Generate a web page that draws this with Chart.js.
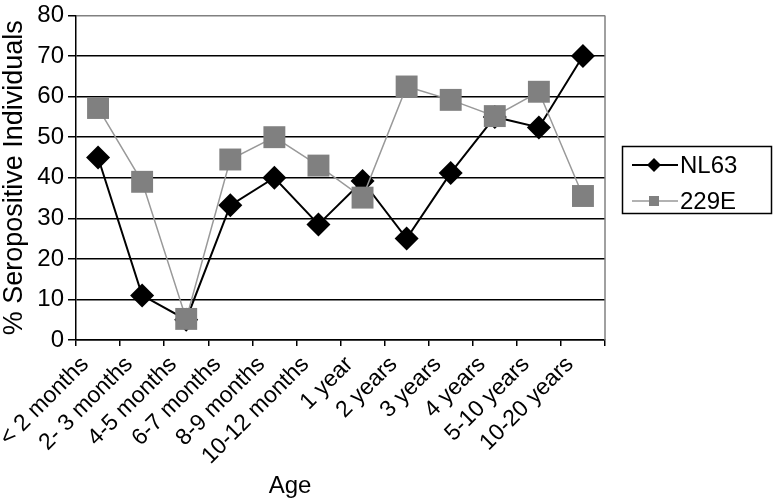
<!DOCTYPE html>
<html>
<head>
<meta charset="utf-8">
<script src="https://cdn.jsdelivr.net/npm/chart.js@4"></script>
<style>
  body { margin: 0; background: #fff; }
  canvas { display: block; }
</style>
</head>
<body>
<canvas id="chart" width="773" height="501"></canvas>
<script>
const ages = ['< 2 months', '2- 3 months', '4-5 months', '6-7 months', '8-9 months', '10-12 months',
              '1 year', '2 years', '3 years', '4 years', '5-10 years', '10-20 years'];
const nl63 = [45, 11, 5, 33.2, 40, 28.5, 39.2, 25, 41.2, 55, 52.4, 70];
const hcov229e = [57.2, 39, 5.2, 44.5, 50, 43, 35.1, 62.5, 59.2, 55.2, 61.2, 35.5];
const seriesNames = ['NL63', '229E'];
const yMin = 0, yMax = 80, yStep = 10;

const FONT = '"Liberation Sans", Arial, sans-serif';

// right edge of the plot area
const framePlugin = {
    id: 'frame',
    beforeDatasetsDraw(chart) {
        const { ctx, chartArea: a } = chart;
        ctx.save();
        ctx.strokeStyle = '#808080';
        ctx.lineWidth = 1.5;
        ctx.beginPath();
        ctx.moveTo(a.right, a.top);
        ctx.lineTo(a.right, a.bottom);
        ctx.stroke();
        ctx.restore();
    }
};

// boxed legend with line + marker, and the x axis title
const legendPlugin = {
    id: 'boxLegend',
    afterDraw(chart) {
        const ctx = chart.ctx;
        ctx.save();
        ctx.strokeStyle = '#000';
        ctx.lineWidth = 1.5;
        ctx.strokeRect(622.5, 146.5, 149, 67);

        const rows = [
            { y: 165, color: '#000', width: 2, shape: 'diamond' },
            { y: 201, color: '#999', width: 1.5, shape: 'square', fill: '#808080' }
        ];
        rows.forEach((r, i) => {
            ctx.strokeStyle = r.color;
            ctx.lineWidth = r.width;
            ctx.beginPath();
            ctx.moveTo(632, r.y);
            ctx.lineTo(678, r.y);
            ctx.stroke();
            ctx.fillStyle = r.fill || r.color;
            ctx.beginPath();
            if (r.shape === 'diamond') {
                ctx.moveTo(654, r.y - 7);
                ctx.lineTo(661, r.y);
                ctx.lineTo(654, r.y + 7);
                ctx.lineTo(647, r.y);
                ctx.closePath();
            } else {
                ctx.rect(649, r.y - 5, 10, 10);
            }
            ctx.fill();
            ctx.fillStyle = '#000';
            ctx.font = '24px ' + FONT;
            ctx.textAlign = 'left';
            ctx.textBaseline = 'middle';
            ctx.fillText(seriesNames[i], 680, r.y + 1);
        });

        ctx.font = '24px ' + FONT;
        ctx.textAlign = 'center';
        ctx.textBaseline = 'alphabetic';
        ctx.fillStyle = '#000';
        ctx.fillText('Age', 290, 493);
        ctx.restore();
    }
};

new Chart(document.getElementById('chart').getContext('2d'), {
    type: 'line',
    data: {
        labels: ages,
        datasets: [{
            label: seriesNames[0],
            data: nl63,
            borderColor: '#000',
            backgroundColor: '#000',
            borderWidth: 2,
            pointStyle: 'rectRot',
            pointRadius: 12,
            pointBorderWidth: 0,
            tension: 0,
            order: 1
        }, {
            label: seriesNames[1],
            data: hcov229e,
            borderColor: '#999',
            backgroundColor: '#808080',
            borderWidth: 1.5,
            pointStyle: 'rect',
            pointRadius: 15.5,
            pointBorderWidth: 0,
            tension: 0,
            order: 0
        }]
    },
    options: {
        responsive: false,
        animation: false,
        clip: false,
        layout: { padding: { top: 8, right: 168, left: 0, bottom: 0 } },
        plugins: {
            legend: { display: false },
            tooltip: { enabled: false }
        },
        scales: {
            x: {
                offset: true,
                grid: {
                    offset: true,
                    drawOnChartArea: false,
                    color: '#000',
                    tickLength: 6,
                    lineWidth: 1.5
                },
                border: { color: '#000', width: 1.5 },
                ticks: {
                    autoSkip: false,
                    maxRotation: 45,
                    minRotation: 45,
                    labelOffset: -13,
                    padding: 5,
                    color: '#000',
                    font: { family: FONT, size: 23 }
                },
                afterFit(scale) { scale.height = 161; }
            },
            y: {
                min: yMin,
                max: yMax,
                grid: {
                    color: ctx => (ctx.tick && ctx.tick.value === yMax) ? '#808080' : '#000',
                    tickColor: '#000',
                    lineWidth: 1.5,
                    tickLength: 8
                },
                border: { color: '#000', width: 1.5 },
                ticks: {
                    stepSize: yStep,
                    padding: 4,
                    color: '#000',
                    font: { family: FONT, size: 24, lineHeight: 0.6 }
                },
                title: {
                    display: true,
                    text: '% Seropositive Individuals',
                    color: '#000',
                    padding: { top: 1, bottom: 0 },
                    font: { family: FONT, size: 27, lineHeight: 1 }
                },
                afterFit(scale) { scale.width = 76; }
            }
        }
    },
    plugins: [framePlugin, legendPlugin]
});
</script>
</body>
</html>
